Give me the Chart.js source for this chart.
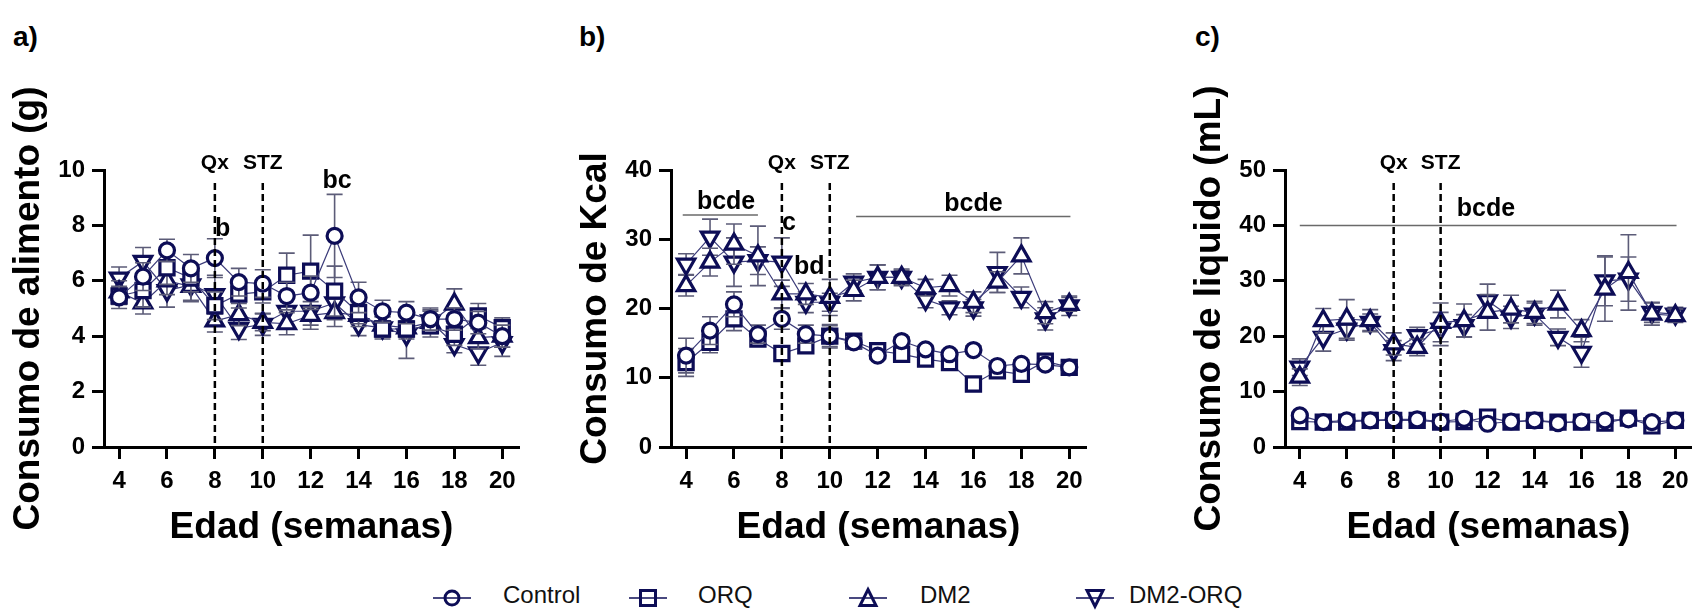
<!DOCTYPE html>
<html lang="es">
<head>
<meta charset="utf-8">
<title>Consumo de alimento, Kcal y liquido</title>
<script src="https://cdn.jsdelivr.net/npm/chart.js@4.4.1/dist/chart.umd.min.js"></script>
<style>
  html, body { margin: 0; padding: 0; background: #fff; }
  body { width: 1705px; height: 613px; position: relative; overflow: hidden; font-family: 'Liberation Sans', Arial, sans-serif; color: #000; }
  .panel { position: absolute; top: 60px; }
  .tag { position: absolute; top: 23px; font-size: 28px; line-height: 28px; font-weight: bold; }
  .key-mark { position: absolute; top: 586px; }
  .key-text { position: absolute; top: 583px; font-size: 24px; line-height: 24px; color: #111; }
</style>
</head>
<body>
<div class="tag" style="left:13px">a)</div>
<div class="tag" style="left:579px">b)</div>
<div class="tag" style="left:1195px">c)</div>

<canvas class="panel" id="food" width="540" height="500" style="left:0px"></canvas>
<canvas class="panel" id="kcal" width="540" height="500" style="left:567px"></canvas>
<canvas class="panel" id="drink" width="524" height="500" style="left:1181px"></canvas>

<svg class="key-mark" style="left:432px" width="40" height="24"><line x1="1" y1="12" x2="39" y2="12" stroke="#0d0d56" stroke-width="1.5"/><circle cx="20" cy="12" r="7" fill="none" stroke="#0d0d56" stroke-width="3"/></svg>
<span class="key-text" style="left:503px">Control</span>
<svg class="key-mark" style="left:628px" width="40" height="24"><line x1="1" y1="12" x2="39" y2="12" stroke="#0d0d56" stroke-width="1.5"/><rect x="12.5" y="4.5" width="15" height="15" fill="none" stroke="#0d0d56" stroke-width="3"/></svg>
<span class="key-text" style="left:698px">ORQ</span>
<svg class="key-mark" style="left:848px" width="40" height="24"><line x1="1" y1="12" x2="39" y2="12" stroke="#0d0d56" stroke-width="1.5"/><polygon points="20,3.5 28,19.5 12,19.5" fill="none" stroke="#0d0d56" stroke-width="3"/></svg>
<span class="key-text" style="left:920px">DM2</span>
<svg class="key-mark" style="left:1075px" width="40" height="24"><line x1="1" y1="12" x2="39" y2="12" stroke="#0d0d56" stroke-width="1.5"/><polygon points="12,4.5 28,4.5 20,20.5" fill="none" stroke="#0d0d56" stroke-width="3"/></svg>
<span class="key-text" style="left:1129px">DM2-ORQ</span>

<script>
const weeks = [4, 5, 6, 7, 8, 9, 10, 11, 12, 13, 14, 15, 16, 17, 18, 19, 20];
const weekTicks = [4, 6, 8, 10, 12, 14, 16, 18, 20];
const groups = ['Control', 'ORQ', 'DM2', 'DM2-ORQ'];

// a) Consumo de alimento (g)
const foodTicks = [0, 2, 4, 6, 8, 10];
const foodControl = [5.4, 6.15, 7.1, 6.45, 6.82, 5.95, 5.9, 5.45, 5.57, 7.62, 5.4, 4.9, 4.85, 4.62, 4.62, 4.49, 4.0];
const foodOrq = [5.45, 5.65, 6.47, 6.1, 5.1, 5.52, 5.6, 6.2, 6.35, 5.63, 4.85, 4.26, 4.26, 4.37, 4.07, 4.73, 4.31];
const foodDm2 = [5.6, 5.2, 6.0, 5.8, 4.55, 4.78, 4.5, 4.45, 4.75, 4.85, 4.75, 4.4, 4.3, 4.5, 5.16, 3.95, 4.0];
const foodDm2Orq = [6.1, 6.7, 5.65, 5.85, 5.5, 4.28, 4.43, 4.9, 4.9, 5.2, 4.42, 4.3, 4.05, 4.55, 3.7, 3.4, 3.77];
const foodControlSem = [0.4, 0.5, 0.4, 0.5, 0.7, 0.5, 0.5, 0.5, 0.6, 1.5, 0.55, 0.4, 0.4, 0.4, 0.4, 0.4, 0.4];
const foodOrqSem = [0.3, 0.6, 0.6, 0.5, 0.5, 0.5, 0.4, 0.8, 1.3, 0.9, 0.4, 0.3, 0.3, 0.4, 0.4, 0.45, 0.35];
const foodDm2Sem = [0.4, 0.4, 0.5, 0.5, 0.4, 0.4, 0.3, 0.4, 0.5, 0.5, 0.4, 0.3, 0.4, 0.4, 0.55, 0.4, 0.4];
const foodDm2OrqSem = [0.4, 0.5, 0.6, 0.6, 0.7, 0.4, 0.4, 0.5, 0.5, 0.6, 0.4, 0.4, 0.85, 0.4, 0.3, 0.45, 0.5];

// b) Consumo de Kcal
const kcalTicks = [0, 10, 20, 30, 40];
const kcalControl = [13.2, 16.8, 20.6, 16.3, 18.5, 16.3, 16.0, 15.1, 13.2, 15.3, 14.1, 13.4, 14.0, 11.7, 12.0, 11.9, 11.5];
const kcalOrq = [12.2, 15.1, 18.5, 15.6, 13.5, 14.6, 16.0, 15.3, 13.9, 13.4, 12.7, 12.2, 9.1, 11.0, 10.5, 12.4, 11.5];
const kcalDm2 = [23.3, 26.7, 29.3, 27.6, 22.1, 22.1, 21.6, 22.6, 24.5, 24.5, 23.0, 23.3, 20.9, 23.8, 27.6, 19.4, 20.6];
const kcalDm2Orq = [26.4, 30.3, 26.7, 26.9, 26.7, 20.9, 20.9, 23.8, 24.5, 24.5, 21.3, 20.1, 20.1, 25.2, 21.6, 18.5, 20.4];
const kcalControlSem = [2.5, 2.0, 1.8, 1.3, 1.5, 1.3, 1.5, 0.8, 0.6, 0.6, 0.6, 0.6, 0.6, 0.6, 0.6, 0.6, 0.6];
const kcalOrqSem = [2.0, 1.5, 1.7, 1.0, 1.0, 1.0, 1.7, 0.8, 0.8, 0.8, 0.8, 0.8, 0.8, 0.8, 0.8, 0.6, 0.6];
const kcalDm2Sem = [1.5, 2.0, 2.9, 4.3, 2.0, 1.5, 2.6, 1.5, 1.8, 1.2, 1.2, 1.5, 1.5, 1.5, 2.6, 1.6, 1.0];
const kcalDm2OrqSem = [1.5, 2.6, 3.5, 2.0, 3.5, 1.5, 1.3, 1.2, 1.8, 1.0, 1.2, 1.0, 1.2, 2.9, 1.5, 1.6, 1.4];

// c) Consumo de liquido (mL)
const drinkTicks = [0, 10, 20, 30, 40, 50];
const drinkControl = [5.7, 4.5, 4.8, 4.8, 5.0, 5.0, 4.6, 5.1, 4.2, 4.6, 4.8, 4.3, 4.6, 4.8, 5.0, 4.5, 4.8];
const drinkOrq = [4.6, 4.5, 4.5, 4.8, 4.8, 4.8, 4.5, 4.6, 5.4, 4.5, 4.8, 4.5, 4.5, 4.3, 5.2, 3.8, 4.8];
const drinkDm2 = [12.6, 22.8, 23.1, 22.8, 18.6, 18.0, 22.5, 22.8, 24.3, 24.9, 24.3, 25.8, 21.0, 28.5, 31.5, 24.0, 23.7];
const drinkDm2Orq = [14.4, 19.8, 21.3, 22.5, 17.4, 20.1, 21.3, 21.9, 26.4, 23.4, 24.0, 19.8, 17.1, 30.0, 30.3, 24.3, 24.0];
const drinkControlSem = [0.6, 0.3, 0.3, 0.3, 0.3, 0.3, 0.3, 0.3, 0.3, 0.3, 0.3, 0.3, 0.3, 0.3, 0.3, 0.3, 0.3];
const drinkOrqSem = [0.5, 0.3, 0.3, 0.3, 0.3, 0.3, 0.3, 0.3, 0.3, 0.3, 0.3, 0.3, 0.3, 0.3, 0.3, 0.3, 0.3];
const drinkDm2Sem = [1.5, 2.2, 3.5, 2.0, 2.0, 1.5, 3.5, 3.0, 3.2, 2.5, 2.0, 2.5, 2.0, 5.8, 6.8, 2.0, 1.2];
const drinkDm2OrqSem = [1.5, 2.5, 2.0, 1.5, 1.8, 1.5, 3.0, 2.0, 3.0, 2.0, 2.0, 1.5, 2.7, 4.5, 4.0, 1.8, 1.2];

const colors = {
  navy: '#0d0d56',
  line: '#3c3c7a',
  whisker: '#5c5c78',
  bracket: '#6a6a6a',
  text: '#000000'
};
const family = "'Liberation Sans', Arial, sans-serif";

const markers = [
  { pointStyle: 'circle', pointRadius: 7.5, pointRotation: 0 },
  { pointStyle: 'rect', pointRadius: 10, pointRotation: 0 },
  { pointStyle: 'triangle', pointRadius: 10, pointRotation: 0 },
  { pointStyle: 'triangle', pointRadius: 10, pointRotation: 180 }
];

// whiskers drawn just before each group's symbols, like the original software does
const errorBars = {
  id: 'errorBars',
  beforeDatasetDraw(chart, args) {
    const ds = chart.data.datasets[args.index];
    if (!ds.sem) return;
    const { ctx, scales: { x, y } } = chart;
    ctx.save();
    ctx.strokeStyle = colors.whisker;
    ctx.lineWidth = 1.6;
    ds.data.forEach((pt, i) => {
      const px = x.getPixelForValue(pt.x);
      const top = y.getPixelForValue(pt.y + ds.sem[i]);
      const bot = y.getPixelForValue(pt.y - ds.sem[i]);
      ctx.beginPath();
      ctx.moveTo(px, top);
      ctx.lineTo(px, bot);
      ctx.moveTo(px - 8, top);
      ctx.lineTo(px + 8, top);
      ctx.moveTo(px - 8, bot);
      ctx.lineTo(px + 8, bot);
      ctx.stroke();
    });
    ctx.restore();
  }
};

const marks = {
  id: 'marks',
  afterDatasetsDraw(chart, args, opts) {
    const { ctx, chartArea, scales: { x, y } } = chart;
    ctx.save();

    ctx.strokeStyle = colors.bracket;
    ctx.lineWidth = 1.5;
    (opts.spans || []).forEach((s) => {
      const py = y.getPixelForValue(s.y);
      ctx.beginPath();
      ctx.moveTo(x.getPixelForValue(s.from), py);
      ctx.lineTo(x.getPixelForValue(s.to), py);
      ctx.stroke();
    });

    ctx.fillStyle = colors.text;
    ctx.textAlign = 'center';
    ctx.textBaseline = 'middle';
    ctx.font = `bold 25px ${family}`;
    (opts.notes || []).forEach((n) => {
      ctx.fillText(n.text, x.getPixelForValue(n.x), y.getPixelForValue(n.y));
    });

    ctx.strokeStyle = '#000';
    ctx.lineWidth = 2.5;
    ctx.setLineDash([7, 4]);
    ctx.font = `bold 21px ${family}`;
    (opts.events || []).forEach((e) => {
      const px = x.getPixelForValue(e.x);
      ctx.beginPath();
      ctx.moveTo(px, chartArea.top + 13);
      ctx.lineTo(px, chartArea.bottom);
      ctx.stroke();
      ctx.fillText(e.label, px, chartArea.top - 7);
    });
    ctx.restore();
  }
};

function series(values, sems) {
  return groups.map((label, g) => ({
    label,
    data: weeks.map((w, i) => ({ x: w, y: values[g][i] })),
    sem: sems[g],
    borderColor: colors.line,
    borderWidth: 1.2,
    pointBackgroundColor: '#ffffff',
    pointBorderColor: colors.navy,
    pointBorderWidth: 3.2,
    clip: false,
    ...markers[g]
  }));
}

function renderPanel(canvasId, cfg) {
  const canvas = document.getElementById(canvasId);
  return new Chart(canvas, {
    type: 'line',
    data: { datasets: series(cfg.values, cfg.sems) },
    options: {
      responsive: false,
      animation: false,
      events: [],
      layout: { padding: { left: 0, top: 110, right: canvas.width - 519, bottom: 0 } },
      plugins: {
        legend: { display: false },
        tooltip: { enabled: false },
        marks: cfg.marks
      },
      scales: {
        x: {
          type: 'linear',
          min: 3.37,
          max: 20.7,
          afterBuildTicks: (scale) => { scale.ticks = weekTicks.map((v) => ({ value: v })); },
          afterFit: (scale) => { scale.height = 113; },
          border: { display: true, color: '#000', width: 3 },
          grid: { drawOnChartArea: false, drawTicks: true, tickLength: 12, tickWidth: 3, tickColor: '#000' },
          ticks: { color: colors.text, padding: 8, maxRotation: 0, autoSkip: false, font: { family, size: 24, weight: 'bold' } },
          title: {
            display: true,
            text: 'Edad (semanas)',
            color: colors.text,
            font: { family, size: 37, weight: 'bold' },
            padding: { top: 0, bottom: 10 }
          }
        },
        y: {
          min: 0,
          max: cfg.yTicks[cfg.yTicks.length - 1],
          afterBuildTicks: (scale) => { scale.ticks = cfg.yTicks.map((v) => ({ value: v })); },
          afterFit: (scale) => { scale.width = 104; },
          border: { display: true, color: '#000', width: 3 },
          grid: { drawOnChartArea: false, drawTicks: true, tickLength: 12, tickWidth: 3, tickColor: '#000' },
          ticks: { color: colors.text, padding: 7, font: { family, size: 24, weight: 'bold' } },
          title: {
            display: true,
            text: cfg.yTitle,
            color: colors.text,
            font: { family, size: 37, weight: 'bold' },
            padding: { top: 7, bottom: 0 }
          }
        }
      }
    },
    plugins: [errorBars, marks]
  });
}

const events = [{ x: 8, label: 'Qx' }, { x: 10, label: 'STZ' }];

renderPanel('food', {
  yTitle: 'Consumo de alimento (g)',
  yTicks: foodTicks,
  values: [foodControl, foodOrq, foodDm2, foodDm2Orq],
  sems: [foodControlSem, foodOrqSem, foodDm2Sem, foodDm2OrqSem],
  marks: {
    events,
    notes: [{ x: 8.32, y: 7.87, text: 'b' }, { x: 13.1, y: 9.59, text: 'bc' }]
  }
});

renderPanel('kcal', {
  yTitle: 'Consumo de Kcal',
  yTicks: kcalTicks,
  values: [kcalControl, kcalOrq, kcalDm2, kcalDm2Orq],
  sems: [kcalControlSem, kcalOrqSem, kcalDm2Sem, kcalDm2OrqSem],
  marks: {
    events,
    spans: [{ from: 3.86, to: 7.0, y: 33.5 }, { from: 11.1, to: 20.05, y: 33.3 }],
    notes: [
      { x: 5.67, y: 35.3, text: 'bcde' },
      { x: 8.3, y: 32.4, text: 'c' },
      { x: 9.14, y: 26.0, text: 'bd' },
      { x: 16.0, y: 35.1, text: 'bcde' }
    ]
  }
});

renderPanel('drink', {
  yTitle: 'Consumo de liquido (mL)',
  yTicks: drinkTicks,
  values: [drinkControl, drinkOrq, drinkDm2, drinkDm2Orq],
  sems: [drinkControlSem, drinkOrqSem, drinkDm2Sem, drinkDm2OrqSem],
  marks: {
    events,
    spans: [{ from: 4.0, to: 20.05, y: 40 }],
    notes: [{ x: 11.93, y: 43.0, text: 'bcde' }]
  }
});
</script>
</body>
</html>
